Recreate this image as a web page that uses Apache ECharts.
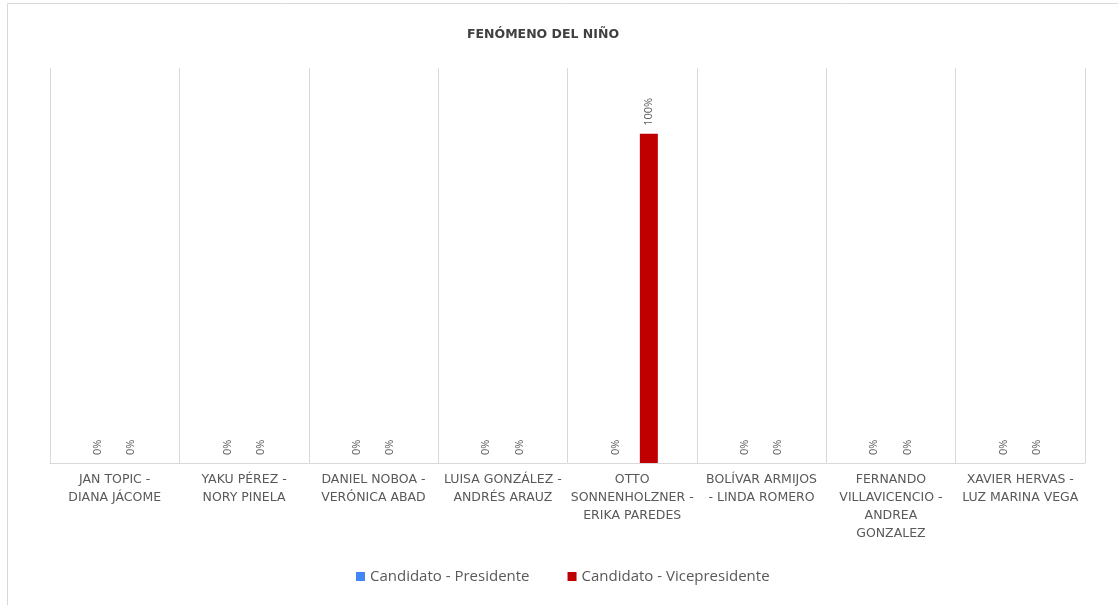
<!DOCTYPE html>
<html>
<head>
<meta charset="utf-8">
<script src="https://cdn.jsdelivr.net/npm/echarts@6/dist/echarts.min.js"></script>
<style>html,body{margin:0;padding:0;background:#fff;}#chart{width:1118px;height:605px;}</style>
</head>
<body>
<div id="chart"></div>
<script>
const titleText = 'FENÓMENO DEL NIÑO';
const categories = [
  'JAN TOPIC -\nDIANA JÁCOME',
  'YAKU PÉREZ -\nNORY PINELA',
  'DANIEL NOBOA -\nVERÓNICA ABAD',
  'LUISA GONZÁLEZ -\nANDRÉS ARAUZ',
  'OTTO\nSONNENHOLZNER -\nERIKA PAREDES',
  'BOLÍVAR ARMIJOS\n- LINDA ROMERO',
  'FERNANDO\nVILLAVICENCIO -\nANDREA\nGONZALEZ',
  'XAVIER HERVAS -\nLUZ MARINA VEGA'
];
const seriesNames = ['Candidato - Presidente', 'Candidato - Vicepresidente'];
const presidente = [0, 0, 0, 0, 0, 0, 0, 0];
const vicepresidente = [0, 0, 0, 0, 100, 0, 0, 0];
const colors = ['#4285F4', '#C00000'];

const chart = echarts.init(document.getElementById('chart'));
const labelCfg = {
  show: true,
  position: 'top',
  rotate: 90,
  align: 'left',
  verticalAlign: 'middle',
  distance: 8,
  formatter: p => p.value + '%',
  color: '#595959',
  fontFamily: 'Open Sans',
  fontSize: 11
};
chart.setOption({
  animation: false,
  color: colors,
  graphic: [{
    type: 'rect',
    shape: { x: 7.5, y: 3.5, width: 1300, height: 800 },
    style: { fill: 'none', stroke: '#d9d9d9', lineWidth: 1 },
    silent: true
  }],
  title: {
    text: titleText,
    left: 462,
    top: 23,
    textStyle: { fontFamily: 'DejaVu Sans', fontSize: 12.5, fontWeight: 'bold', color: '#404040' }
  },
  legend: {
    bottom: 16,
    left: 351,
    itemWidth: 9,
    itemHeight: 9,
    itemGap: 38,
    icon: 'rect',
    textStyle: { fontFamily: 'Open Sans', fontSize: 15, color: '#595959' },
    data: seriesNames
  },
  grid: { left: 50, right: 33, top: 68, bottom: 142 },
  xAxis: {
    type: 'category',
    data: categories,
    axisTick: { show: false },
    axisLine: { lineStyle: { color: '#d9d9d9' } },
    splitLine: { show: true, lineStyle: { color: '#d9d9d9' } },
    axisLabel: {
      interval: 0,
      margin: 8,
      color: '#595959',
      fontFamily: 'DejaVu Sans',
      fontSize: 12.5,
      lineHeight: 18
    }
  },
  yAxis: {
    type: 'value',
    min: 0,
    max: 120,
    show: false
  },
  series: [
    { name: seriesNames[0], type: 'bar', data: presidente, barWidth: 18, barGap: '85%', label: labelCfg },
    { name: seriesNames[1], type: 'bar', data: vicepresidente, barWidth: 18, barGap: '85%', label: labelCfg }
  ]
});
</script>
</body>
</html>
